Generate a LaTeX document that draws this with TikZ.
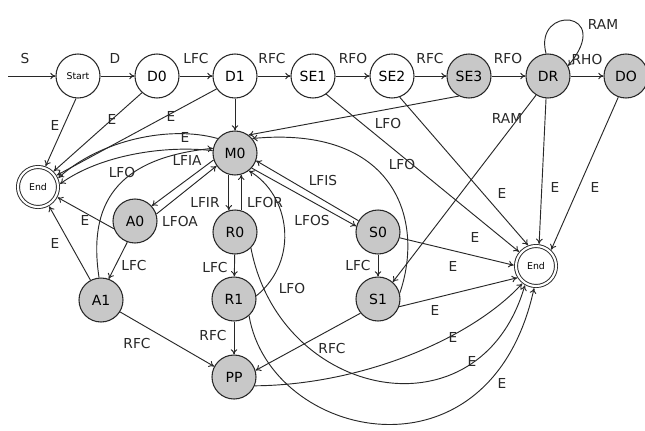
\documentclass[tikz,border=0pt]{standalone}
\usepackage{fontspec}
\setmainfont{DejaVu Sans}
\usetikzlibrary{arrows.meta}
\definecolor{stategray}{RGB}{200,200,200}
\definecolor{ink}{RGB}{40,40,40}
\begin{document}
\begin{tikzpicture}[x=0.75pt,y=-0.75pt,
  plain/.style={circle,draw=ink,line width=0.8pt,fill=white,minimum size=33pt,inner sep=0pt,font=\fontsize{10.5}{12}\selectfont},
  state/.style={plain,fill=stategray},
  final/.style={circle,draw=ink,line width=0.7pt,double,double distance=1.6pt,fill=white,minimum size=30pt,inner sep=0pt,outer sep=1.7pt,font=\fontsize{7}{8}\selectfont},
  tr/.style={draw=ink,line width=0.7pt,-{To[length=4pt,width=5pt]}},
  lbl/.style={font=\fontsize{10.3}{12}\selectfont,inner sep=0pt,text=ink}]
\fill[white] (0,0) rectangle (645,430);
\useasboundingbox (0,0) rectangle (645,430);
% states
\node[plain,font=\fontsize{7}{8}\selectfont] (start) at (78,76) {Start};
\node[plain] (d0) at (157,76) {D0};
\node[plain] (d1) at (235,76) {D1};
\node[plain] (se1) at (313,76) {SE1};
\node[plain] (se2) at (392,76) {SE2};
\node[state] (se3) at (469,76) {SE3};
\node[state] (dr) at (548,76) {DR};
\node[state] (nDO) at (626,76) {DO};
\node[final] (endl) at (38,187) {End};
\node[final] (endr) at (536,266) {End};
\node[state] (m0) at (235,153) {M0};
\node[state] (a0) at (135,221) {A0};
\node[state] (r0) at (235,232) {R0};
\node[state] (s0) at (378,232) {S0};
\node[state] (a1) at (101,300) {A1};
\node[state] (r1) at (234,299) {R1};
\node[state] (s1) at (378,299) {S1};
\node[state] (pp) at (234,377) {PP};
\coordinate (in) at (8,76);
% top row
\draw[tr] (in) -- (start) node[lbl] at (25,58) {S};
\draw[tr] (start) -- (d0) node[lbl] at (115,58) {D};
\draw[tr] (d0) -- (d1) node[lbl] at (196,58) {LFC};
\draw[tr] (d1) -- (se1) node[lbl] at (272,58) {RFC};
\draw[tr] (se1) -- (se2) node[lbl] at (353,58) {RFO};
\draw[tr] (se2) -- (se3) node[lbl] at (430,58) {RFC};
\draw[tr] (se3) -- (dr) node[lbl] at (508,58) {RFO};
\draw[tr] (dr) -- (nDO) node[lbl] at (587,59) {RHO};
\draw[tr] (dr.95) .. controls +(-13,-49) and +(47,-56) .. (dr.27) node[lbl] at (603,24) {RAM};
% to left End
\draw[tr] (start.265) -- (endl.70) node[lbl] at (55,125) {E};
\draw[tr] (d0.228) -- (endl.45) node[lbl] at (112,119) {E};
\draw[tr] (d1.215) -- (endl.32) node[lbl] at (171,116) {E};
\draw[tr] (m0.140) .. controls (170,125) and (100,140) .. (endl.24) node[lbl] at (185,137) {E};
\draw[tr] (m0.174) .. controls (165,145) and (100,155) .. (endl.8);
\draw[tr] (a0.200) -- (endl.-28) node[lbl] at (85,220) {E};
\draw[tr] (a1.118) -- (endl.-60) node[lbl] at (55,243) {E};
% A branch
\draw[tr] (a1.95) .. controls (88,205) and (115,158) .. (m0.168) node[lbl] at (122,172) {LFO};
\draw[tr] (m0.198) -- (a0.42) node[lbl] at (187,160) {LFIA};
\draw[tr] (a0.18) -- (m0.215) node[lbl] at (180,221) {LFOA};
\draw[tr] (a0.250) -- (a1.70) node[lbl] at (134,265) {LFC};
\draw[tr] (a1.-32) -- (pp.152) node[lbl] at (137,343) {RFC};
% M0 column
\draw[tr] (d1) -- (m0);
\draw[tr] (se3.243) -- (m0.53) node[lbl] at (388,123) {LFO};
\draw[tr] (m0.254) -- (r0.106) node[lbl] at (205,202) {LFIR};
\draw[tr] (r0.74) -- (m0.286) node[lbl] at (265,202) {LFOR};
\draw[tr] (r0) -- (r1) node[lbl] at (215,267) {LFC};
\draw[tr] (r1.8) .. controls (300,260) and (290,195) .. (m0.308) node[lbl] at (292,288) {LFO};
\draw[tr] (r1) -- (pp) node[lbl] at (213,335) {RFC};
% S branch
\draw[tr] (s0.150) -- (m0.340) node[lbl] at (323,180) {LFIS};
\draw[tr] (m0.318) -- (s0.165) node[lbl] at (312,220) {LFOS};
\draw[tr] (s0) -- (s1) node[lbl] at (358,265) {LFC};
\draw[tr] (s1.15) .. controls (425,220) and (395,125) .. (m0.40) node[lbl] at (402,164) {LFO};
\draw[tr] (s1.219) -- (pp.17) node[lbl] at (332,348) {RFC};
\draw[tr] (dr.238) -- (s1.49) node[lbl] at (507,118) {RAM};
% to right End
\draw[tr] (se1.306) -- (endr.140) node[lbl] at (475,237) {E};
\draw[tr] (se2.290) -- (endr.111) node[lbl] at (502,193) {E};
\draw[tr] (dr.265) -- (endr.82) node[lbl] at (555,187) {E};
\draw[tr] (nDO.250) -- (endr.47) node[lbl] at (595,187) {E};
\draw[tr] (s0.-15) -- (endr.178) node[lbl] at (453,266) {E};
\draw[tr] (s1.-20) -- (endr.212) node[lbl] at (435,310) {E};
\draw[tr] (pp.-23) .. controls (360,385) and (470,340) .. (endr.232) node[lbl] at (453,337) {E};
\draw[tr] (r0.-45) .. controls (280,400) and (480,440) .. (endr.240) node[lbl] at (472,361) {E};
\draw[tr] (r1.-48) .. controls (270,440) and (490,490) .. (endr.265) node[lbl] at (502,383) {E};
\end{tikzpicture}
\end{document}
